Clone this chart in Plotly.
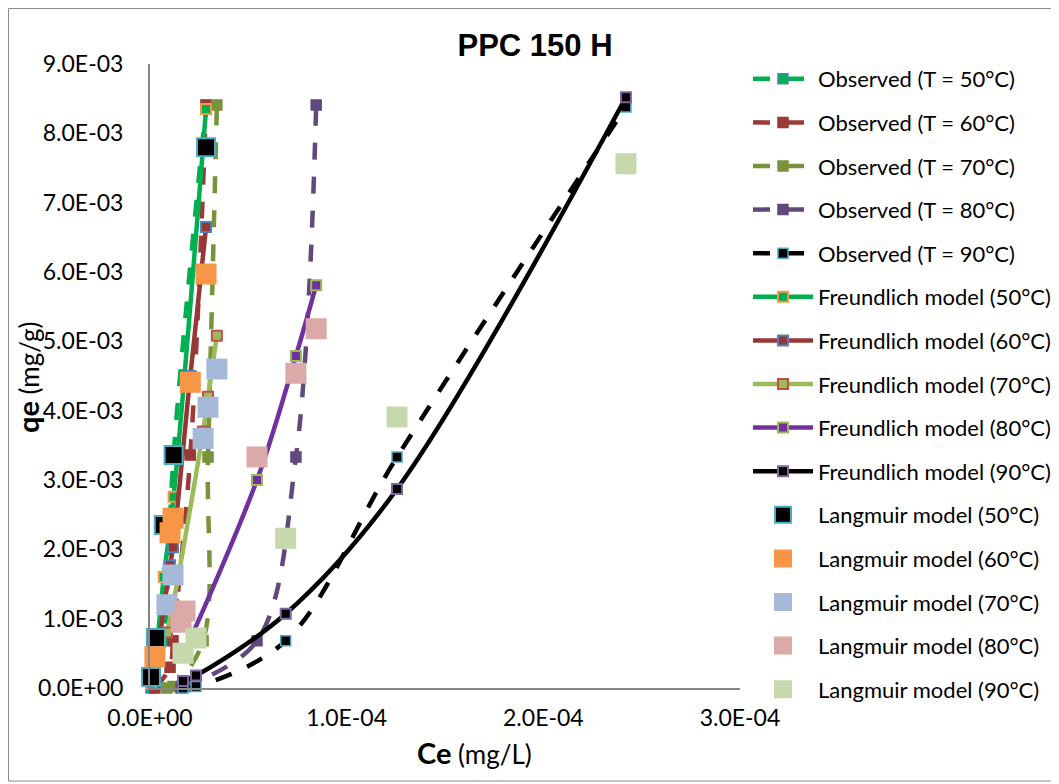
import plotly.graph_objects as go

# ---------------- data ----------------
temps = ["50", "60", "70", "80", "90"]

obs50_x = [0.05e-5, 0.3e-5, 0.7e-5, 1.2e-5, 2.85e-5]
obs60_x = [0.25e-5, 1.02e-5, 1.17e-5, 2.05e-5, 2.85e-5]
obs70_x = [0.86e-5, 1.17e-5, 2.7e-5, 2.95e-5, 3.4e-5]
obs80_x = [1.58e-5, 1.78e-5, 5.44e-5, 7.42e-5, 8.45e-5]
obs90_x = [1.68e-5, 2.34e-5, 6.9e-5, 1.256e-4, 2.42e-4]

obs50_y = [0.0, 0.05e-3, 0.68e-3, 3.36e-3, 8.40e-3]
obs60_y = [0.0, 0.3e-3, 0.68e-3, 3.36e-3, 8.41e-3]
obs70_y = [0.0, 0.02e-3, 0.68e-3, 3.33e-3, 8.41e-3]
obs80_y = [0.0, 0.02e-3, 0.68e-3, 3.33e-3, 8.41e-3]
obs90_y = [0.0, 0.02e-3, 0.68e-3, 3.33e-3, 8.38e-3]

fr50_y = [0.06e-3, 0.5e-3, 1.6e-3, 2.76e-3, 8.35e-3]
fr60_y = [0.25e-3, 1.77e-3, 2.03e-3, 4.5e-3, 6.65e-3]
fr70_y = [0.8e-3, 1.2e-3, 3.7e-3, 4.2e-3, 5.08e-3]
fr80_y = [0.45e-3, 0.55e-3, 3.0e-3, 4.79e-3, 5.81e-3]
fr90_y = [0.1e-3, 0.18e-3, 1.07e-3, 2.87e-3, 8.52e-3]

la50_y = [0.16e-3, 0.72e-3, 2.35e-3, 3.36e-3, 7.8e-3]
la60_y = [0.45e-3, 2.24e-3, 2.45e-3, 4.41e-3, 5.97e-3]
la70_y = [1.2e-3, 1.63e-3, 3.6e-3, 4.05e-3, 4.6e-3]
la80_y = [0.95e-3, 1.11e-3, 3.33e-3, 4.54e-3, 5.18e-3]
la90_y = [0.5e-3, 0.72e-3, 2.16e-3, 3.91e-3, 7.56e-3]

x_tick_vals = [0, 1e-4, 2e-4, 3e-4]
x_tick_text = ["0.0E+00", "1.0E-04", "2.0E-04", "3.0E-04"]
y_tick_vals = [i * 1e-3 for i in range(10)]
y_tick_text = ["0.0E+00", "1.0E-03", "2.0E-03", "3.0E-03", "4.0E-03",
               "5.0E-03", "6.0E-03", "7.0E-03", "8.0E-03", "9.0E-03"]

obs_x = [obs50_x, obs60_x, obs70_x, obs80_x, obs90_x]
obs_y = [obs50_y, obs60_y, obs70_y, obs80_y, obs90_y]
fr_y = [fr50_y, fr60_y, fr70_y, fr80_y, fr90_y]
la_y = [la50_y, la60_y, la70_y, la80_y, la90_y]

# ---------------- styles ----------------
obs_line = ["#00B050", "#9B3A37", "#77933C", "#604A7B", "#000000"]
obs_mborder = ["#4F81BD", "#9B3A37", "#77933C", "#604A7B", "#4BACC6"]
fr_line = ["#00B050", "#953735", "#9BBB59", "#7030A0", "#000000"]
fr_mborder = ["#F79646", "#4F81BD", "#C0504D", "#9BBB59", "#8064A2"]
la_fill = ["#000000", "#F79646", "#A7B9D8", "#DBA9A8", "#C6D8AC"]
la_border = ["#4BACC6", "#F79646", "#A7B9D8", "#DBA9A8", "#C6D8AC"]

FONT = "Lato"
W, H = 1059, 784
OFF = 8   # the page shows the figure shifted by the 8px body margin

def fx(p):   # reference page pixel -> paper x (paper = whole figure)
    return (p - OFF) / W

def fy(p):   # reference page pixel -> paper y
    return 1 - (p - OFF) / H

fig = go.Figure()

for i, t in enumerate(temps):
    fig.add_trace(go.Scatter(
        x=obs_x[i], y=obs_y[i], name=f"Observed (T = {t}°C)",
        mode="lines+markers", legendgroup=f"o{t}",
        line=dict(color=obs_line[i], width=4.5, dash="17px,17px", shape="spline"),
        marker=dict(symbol="square", size=10, color=obs_line[i],
                    line=dict(color=obs_mborder[i], width=1.5)),
        cliponaxis=False))

for i, t in enumerate(temps):
    fig.add_trace(go.Scatter(
        x=obs_x[i], y=fr_y[i], name=f"Freundlich model ({t}°C)",
        mode="lines+markers", legendgroup=f"f{t}",
        line=dict(color=fr_line[i], width=4.5, shape="spline"),
        marker=dict(symbol="square", size=10, color=fr_line[i],
                    line=dict(color=fr_mborder[i], width=2)),
        cliponaxis=False))

for i, t in enumerate(temps):
    fig.add_trace(go.Scatter(
        x=obs_x[i], y=la_y[i], name=f"Langmuir model ({t}°C)",
        mode="markers", legendgroup=f"l{t}",
        marker=dict(symbol="square", size=19 if i else 18, color=la_fill[i],
                    line=dict(color=la_border[i], width=2)),
        cliponaxis=False))

fig.add_shape(type="rect", xref="paper", yref="paper",
              x0=0.5 / W, x1=fx(1055), y0=fy(781), y1=1 - 0.5 / H,
              line=dict(color="#8C8C8C", width=1), layer="below")

fig.add_annotation(text="<b><span style='font-size:29px'>qe</span></b> (mg/g)",
                   xref="paper", yref="paper", x=fx(28), y=fy(378),
                   xanchor="center", yanchor="middle", textangle=-90,
                   showarrow=False, font=dict(family=FONT, size=26, color="#000000"))

fig.add_annotation(text="<b><span style='font-size:29px'>Ce</span></b> (mg/L)",
                   xref="paper", yref="paper", x=fx(474), y=fy(752),
                   xanchor="center", yanchor="middle",
                   showarrow=False, font=dict(family=FONT, size=26, color="#000000"))

fig.update_layout(
    width=W, height=H, autosize=False,
    margin=dict(l=0, r=0, t=0, b=0, autoexpand=False),
    plot_bgcolor="white", paper_bgcolor="white",
    title=dict(text="<b>PPC 150 H</b>", xref="paper", x=fx(535), xanchor="center",
               yref="paper", y=fy(45), yanchor="middle",
               font=dict(family="Liberation Sans", size=31, color="#000000")),
    xaxis=dict(domain=[fx(150), fx(740)], range=[0, 3e-4], automargin=False,
               tickvals=x_tick_vals, ticktext=x_tick_text,
               showline=True, linecolor="#868686", linewidth=2,
               showgrid=False, zeroline=False, ticks="",
               ticklabelstandoff=8,
               tickfont=dict(family=FONT, size=23, color="#000000")),
    yaxis=dict(domain=[fy(688), fy(64)], range=[0, 9e-3], automargin=False,
               tickvals=y_tick_vals, ticktext=y_tick_text,
               showline=True, linecolor="#868686", linewidth=2,
               showgrid=False, zeroline=False, ticks="",
               ticklabelstandoff=20,
               tickfont=dict(family=FONT, size=23, color="#000000")),
    legend=dict(x=fx(748), xanchor="left", y=fy(58), yanchor="top",
                maxheight=740, itemwidth=60,
                traceorder="grouped", tracegroupgap=12,
                font=dict(family=FONT, size=22, color="#000000"),
                bgcolor="rgba(0,0,0,0)", itemsizing="trace"),
    showlegend=True,
)

fig.write_html("out.html")
